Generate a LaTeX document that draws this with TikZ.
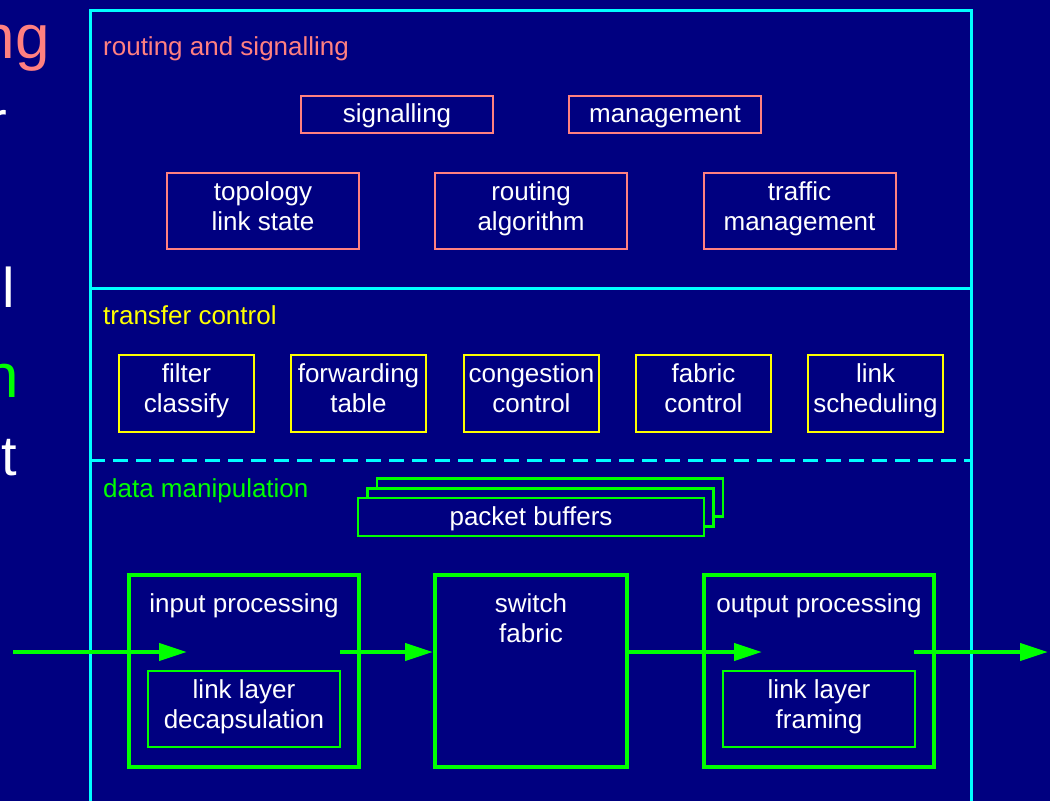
\documentclass[tikz,border=0pt]{standalone}
\usepackage{fontspec}
\setmainfont{Liberation Sans}
\usetikzlibrary{arrows.meta}

\definecolor{navy}{RGB}{0,0,128}
\definecolor{salmon}{RGB}{255,128,128}
\definecolor{aqua}{RGB}{0,255,255}
\definecolor{lime}{RGB}{0,255,0}
\definecolor{yel}{RGB}{255,255,0}

% fixed line extent so every text line sits at the same place in its box
\newcommand\linestrut{\rule[-11pt]{0pt}{30pt}}

\begin{document}
\begin{tikzpicture}[x=1pt,y=-1pt,
  txt/.style={text=white, font=\fontsize{26}{30}\selectfont, align=center, inner sep=0pt},
  oneline/.style={text height=21pt, text depth=5pt},
  heading/.style={font=\fontsize{26}{30}\selectfont, inner sep=0pt, anchor=base west},
  frame/.style={draw=aqua, line width=3pt},
  rsbox/.style={draw=salmon, line width=2pt, txt, minimum width=192pt},
  tcbox/.style={draw=yel, line width=2pt, txt, minimum width=135pt, minimum height=77pt},
  bufbox/.style={draw=lime, fill=navy, line width=2.5pt, txt, oneline, minimum width=346pt, minimum height=38pt},
  stage/.style={draw=lime, line width=4pt, minimum height=192pt, inner sep=0pt},
  substage/.style={draw=lime, line width=2pt, txt, minimum width=192pt, minimum height=76pt},
  flow/.style={draw=lime, line width=4pt, -{Triangle[length=28pt, width=17pt]}},
  margin/.style={inner sep=0pt, anchor=base east, font=\fontsize{56}{56}\selectfont}
]
% page background
\fill[navy] (0,0) rectangle (1050,801);
\useasboundingbox (0,0) rectangle (1050,801);

% text running in from the left margin
\node[margin, text=salmon, font=\fontsize{62}{62}\selectfont] (e1) at (50,58) {ng};
\node[margin, text=white] (e2) at (7,140) {r};
\node[margin, text=white] (e3) at (15,307) {l};
\node[margin, text=lime, font=\fontsize{62}{62}\selectfont] (e4) at (19,397) {n};
\node[margin, text=white] (e5) at (17,475) {t};

% outer frame and layer separators
\draw[frame] (90,801) -- (90,10) -- (971,10) -- (971,801);
\draw[frame] (90,288) -- (971,288);
\draw[frame, dash pattern=on 15pt off 8pt] (90,460) -- (971,460);

% layer headings
\node[heading, text=salmon] (h1) at (103,55) {routing and signalling};
\node[heading, text=yel] (h2) at (103,324) {transfer control};
\node[heading, text=lime] (h3) at (103,497) {data manipulation};

% routing and signalling layer
\node[rsbox, oneline, minimum height=37pt] (sig) at (397,114.5) {signalling};
\node[rsbox, oneline, minimum height=37pt] (mgmt) at (665,114.5) {management};
\node[rsbox, minimum height=76pt] (topo) at (263,211) {\linestrut topology\\\linestrut link state};
\node[rsbox, minimum height=76pt] (ralg) at (531,211) {\linestrut routing\\\linestrut algorithm};
\node[rsbox, minimum height=76pt] (traf) at (799.5,211) {\linestrut traffic\\\linestrut management};

% transfer control layer
\node[tcbox] (filt) at (186.5,393.5) {\linestrut filter\\\linestrut classify};
\node[tcbox] (fwd) at (358.5,393.5) {\linestrut forwarding\\\linestrut table};
\node[tcbox] (cong) at (531.5,393.5) {\linestrut congestion\\\linestrut control};
\node[tcbox] (fab) at (703.5,393.5) {\linestrut fabric\\\linestrut control};
\node[tcbox] (lsch) at (875.5,393.5) {\linestrut link\\\linestrut scheduling};

% packet buffers, drawn back to front
\node[bufbox] (buf3) at (550,497.5) {};
\node[bufbox] (buf2) at (540.5,507.5) {};
\node[bufbox] (buf1) at (531,517) {packet buffers};

% data path stages
\node[stage, minimum width=230pt] (inp) at (244,671) {};
\node[stage, minimum width=192pt] (sw) at (531,671) {};
\node[stage, minimum width=230pt] (outp) at (819,671) {};
\node[txt] (inpl) at (244,608) {\linestrut input processing};
\node[txt] (swl) at (531,623) {\linestrut switch\\\linestrut fabric};
\node[txt] (outpl) at (819,608) {\linestrut output processing};
\node[substage] (dec) at (244,709) {\linestrut link layer\\\linestrut decapsulation};
\node[substage] (frm) at (819,709) {\linestrut link layer\\\linestrut framing};

% packet flow
\coordinate (src) at (13,652);
\coordinate (inA) at (187,652);
\coordinate (inB) at (340,652);
\coordinate (outA) at (762,652);
\coordinate (outB) at (914,652);
\coordinate (dst) at (1048,652);
\draw[flow] (src) -- (inA);
\draw[flow] (inB) -- (inB -| sw.west);
\draw[flow] (outA -| sw.east) -- (outA);
\draw[flow] (outB) -- (dst);
\end{tikzpicture}
\end{document}
